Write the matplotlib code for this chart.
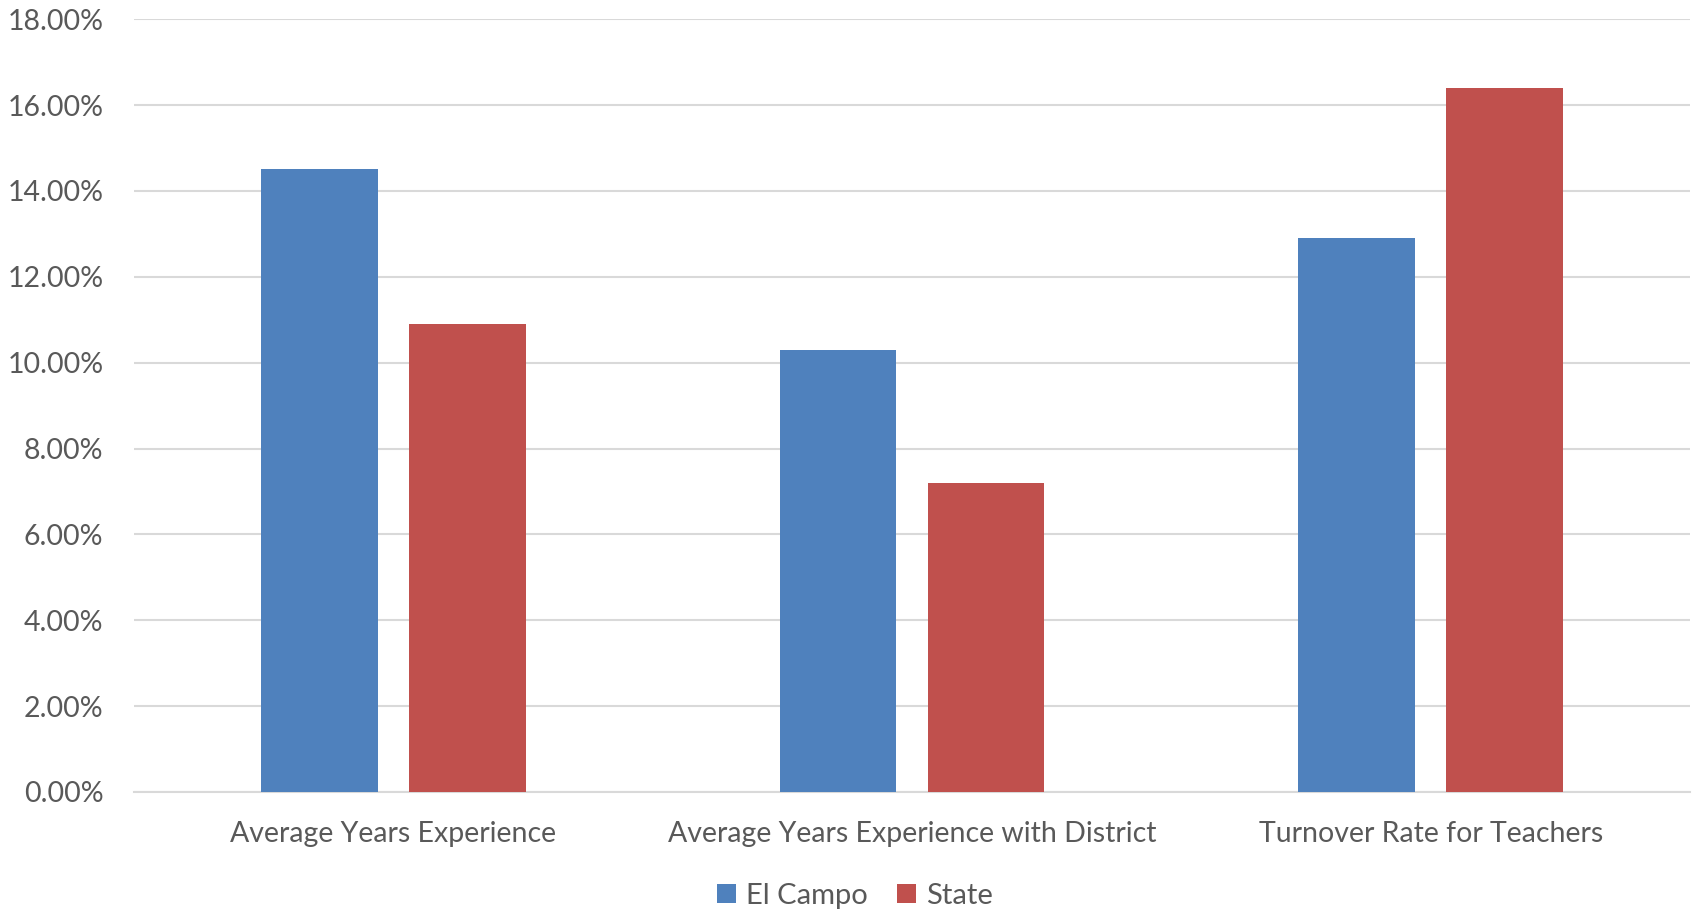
import numpy as np
import matplotlib.pyplot as plt
from matplotlib.ticker import PercentFormatter

plt.rcParams['font.family'] = ['Lato', 'DejaVu Sans']

categories = ["Average Years Experience", "Average Years Experience with District",
              "Turnover Rate for Teachers"]
el_campo = [14.5, 10.3, 12.9]
state = [10.9, 7.2, 16.4]

text_color = "#595959"
grid_color = "#d9d9d9"

fig = plt.figure(figsize=(16.96, 9.14), dpi=100)
ax = fig.add_axes([0.079, 0.1335, 0.9175, 0.8455])

x = np.arange(len(categories))
width = 0.225
ax.bar(x - 0.1425, el_campo, width, color="#4f81bd", label="El Campo", zorder=3)
ax.bar(x + 0.1425, state, width, color="#c0504d", label="State", zorder=3)

ax.set_xlim(-0.5, len(categories) - 0.5)
ax.set_ylim(0, 18)
ax.set_yticks(np.arange(0, 18.1, 2))
ax.yaxis.set_major_formatter(PercentFormatter(decimals=2))
ax.set_xticks(x)
ax.set_xticklabels(categories)
ax.grid(axis="y", color=grid_color, linewidth=1.5, zorder=0)

for side in ["top", "right", "left"]:
    ax.spines[side].set_visible(False)
ax.spines["bottom"].set_color(grid_color)
ax.spines["bottom"].set_linewidth(1.5)
ax.tick_params(axis="both", length=0, labelsize=20.5, labelcolor=text_color)
ax.tick_params(axis="y", pad=22)
ax.tick_params(axis="x", pad=21)

fig.legend(loc="center", bbox_to_anchor=(0.504, 0.02), ncol=2, frameon=False,
           fontsize=21, labelcolor=text_color, handlelength=0.65, handleheight=0.65,
           handletextpad=0.35, columnspacing=1.0)

fig.savefig("out.png", dpi=100)
